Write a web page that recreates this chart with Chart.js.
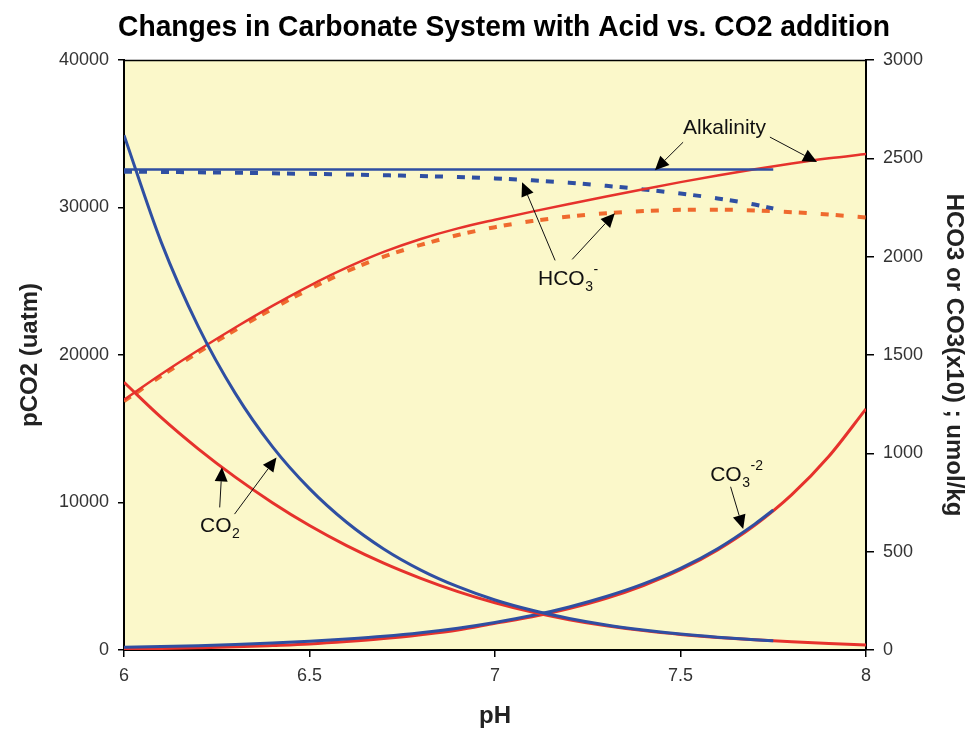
<!DOCTYPE html>
<html>
<head>
<meta charset="utf-8">
<script src="https://cdn.jsdelivr.net/npm/chart.js@4.4.1/dist/chart.umd.min.js"></script>
<style>
html,body{margin:0;padding:0;background:#fff;}
#wrap{width:970px;height:732px;}
</style>
</head>
<body>
<div id="wrap"><canvas id="c" width="970" height="732"></canvas></div>
<script>
// ---- data ----
const chartTitle = 'Changes in Carbonate System with Acid vs. CO2 addition';
const phAcid = [6.0,6.1,6.2,6.3,6.4,6.5,6.6,6.7,6.8,6.9,7.0,7.1,7.2,7.3,7.4,7.5,7.6,7.7,7.8,7.9,8.0];
const phCO2  = [6.0,6.1,6.2,6.3,6.4,6.5,6.6,6.7,6.8,6.9,7.0,7.1,7.2,7.3,7.4,7.5,7.6,7.7,7.75];

// CO2 addition (blue)
const pco2CO2 = [34900,27670,21940,17400,13790,10940,8660,6850,5420,4290,3390,2690,2140,1700,1360,1085,870,698,626];
const alkCO2  = [2443,2443,2443,2443,2443,2443,2443,2443,2443,2443,2443,2443,2443,2443,2443,2443,2443,2443,2443];
const hco3CO2 = [2432,2431,2429,2427,2424,2421,2418,2414,2410,2405,2398,2388,2376,2360,2342,2321,2296,2265,2245];
const co3CO2  = [14,18,22,28,35,44,56,70,88,111,140,175,219,272,336,415,515,640,712];

// Acid addition (red)
const pco2Acid = [18150,15770,13640,11720,9990,8440,7080,5890,4860,3960,3200,2570,2054,1641,1313,1056,854,696,561,443,339];
const alkAcid  = [1272,1402,1524,1640,1750,1852,1944,2024,2090,2144,2188,2229,2268,2306,2343,2379,2413,2445,2474,2500,2522];
const hco3Acid = [1265,1393,1513,1627,1735,1835,1925,2000,2060,2110,2150,2181,2204,2221,2232,2238,2239,2235,2226,2214,2199];
const co3Acid  = [5.5,8,11.5,16,23,31,43,58,78,102,136,169,211,263,328,408,509,634,790,985,1226];

// tick labels
const xTicks = [6,6.5,7,7.5,8];
const leftTicks = [0,10000,20000,30000,40000];
const rightTicks = [0,500,1000,1500,2000,2500,3000];

// annotations (pH, right-axis value)
const notes = [
  {main:'Alkalinity', sub:'', sup:'', x:7.507, y:2654},
  {main:'HCO', sub:'3', sup:'-', x:7.116, y:1885},
  {main:'CO', sub:'2', sup:'', x:6.205, y:632},
  {main:'CO', sub:'3', sup:'-2', x:7.580, y:891}
];
const arrows = [
  [7.507,2582,7.431,2440],
  [7.741,2608,7.868,2481],
  [7.162,1981,7.073,2379],
  [7.208,1986,7.323,2221],
  [6.258,725,6.264,929],
  [6.298,691,6.411,979],
  [7.635,830,7.669,615]
];

const BLUE = '#2F4FA2', RED = '#E6322C', ORANGE = '#EF6A2E';
const pts = (xs, ys) => xs.map((x,i)=>({x:x, y:ys[i]}));

const FONT = '"Liberation Sans", Arial, Helvetica, sans-serif';

const deco = {
  id:'deco',
  beforeDraw(chart){
    const {ctx, chartArea:a} = chart;
    ctx.save();
    ctx.fillStyle = '#FBF8CA';
    ctx.fillRect(a.left, a.top, a.right-a.left, a.bottom-a.top);
    ctx.restore();
  },
  afterDraw(chart){
    const {ctx, chartArea:a} = chart;
    const sx = chart.scales.x, sy = chart.scales.y2;
    ctx.save();
    // top border
    ctx.strokeStyle = '#000'; ctx.lineWidth = 1.5;
    ctx.beginPath(); ctx.moveTo(a.left, a.top+0.5); ctx.lineTo(a.right, a.top+0.5); ctx.stroke();
    // title (condensed bold)
    ctx.font = 'bold 30px ' + FONT;
    ctx.fillStyle = '#000';
    ctx.textBaseline = 'alphabetic';
    const w = ctx.measureText(chartTitle).width;
    const targetW = 772;
    const k = targetW / w;
    ctx.save();
    ctx.translate(504 - targetW/2, 36);
    ctx.scale(k, 1);
    ctx.fillText(chartTitle, 0, 0);
    ctx.restore();
    // arrows
    ctx.strokeStyle = '#111'; ctx.fillStyle = '#000'; ctx.lineWidth = 1;
    arrows.forEach(ar=>{
      const x1 = sx.getPixelForValue(ar[0]), y1 = sy.getPixelForValue(ar[1]);
      const x2 = sx.getPixelForValue(ar[2]), y2 = sy.getPixelForValue(ar[3]);
      const ang = Math.atan2(y2-y1, x2-x1);
      const L = 14, W = 6.5;
      const bx = x2 - L*Math.cos(ang), by = y2 - L*Math.sin(ang);
      ctx.beginPath(); ctx.moveTo(x1,y1); ctx.lineTo(bx,by); ctx.stroke();
      ctx.beginPath();
      ctx.moveTo(x2,y2);
      ctx.lineTo(bx + W*Math.sin(ang), by - W*Math.cos(ang));
      ctx.lineTo(bx - W*Math.sin(ang), by + W*Math.cos(ang));
      ctx.closePath(); ctx.fill();
    });
    // annotation texts
    notes.forEach(n=>{
      let x = sx.getPixelForValue(n.x), y = sy.getPixelForValue(n.y);
      ctx.textBaseline = 'middle'; ctx.textAlign = 'left';
      ctx.font = '21px ' + FONT; ctx.fillStyle = '#111';
      ctx.fillText(n.main, x, y);
      x += ctx.measureText(n.main).width;
      ctx.font = '14px ' + FONT;
      let sw = 0;
      if (n.sub){ ctx.fillText(n.sub, x+0.5, y+8); sw = ctx.measureText(n.sub).width; }
      if (n.sup){ ctx.fillText(n.sup, x+sw+1, y-9); }
    });
    ctx.restore();
  }
};

const tickFont = {family: FONT, size: 18};
const titleFont = {family: FONT, size: 24, weight: 'bold'};

new Chart(document.getElementById('c'), {
  type:'line',
  data:{
    datasets:[
      {label:'pCO2 CO2 add', data:pts(phCO2,pco2CO2), yAxisID:'y', borderColor:BLUE, borderWidth:3},
      {label:'pCO2 acid add', data:pts(phAcid,pco2Acid), yAxisID:'y', borderColor:RED, borderWidth:3},
      {label:'Alk CO2 add', data:pts(phCO2,alkCO2), yAxisID:'y2', borderColor:BLUE, borderWidth:2.5},
      {label:'Alk acid add', data:pts(phAcid,alkAcid), yAxisID:'y2', borderColor:RED, borderWidth:2.5},
      {label:'HCO3 CO2 add', data:pts(phCO2,hco3CO2), yAxisID:'y2', borderColor:BLUE, borderWidth:4, borderDash:[8,7,8,14]},
      {label:'HCO3 acid add', data:pts(phAcid,hco3Acid), yAxisID:'y2', borderColor:ORANGE, borderWidth:4, borderDash:[8,7,8,14]},
      {label:'CO3 CO2 add', data:pts(phCO2,co3CO2), yAxisID:'y2', borderColor:BLUE, borderWidth:3},
      {label:'CO3 acid add', data:pts(phAcid,co3Acid), yAxisID:'y2', borderColor:RED, borderWidth:3}
    ]
  },
  options:{
    responsive:false,
    animation:false,
    devicePixelRatio:1,
    layout:{padding:{top:60,left:0,right:0,bottom:0}},
    elements:{point:{radius:0}, line:{cubicInterpolationMode:'monotone', fill:false}},
    plugins:{legend:{display:false}, title:{display:false}, tooltip:{enabled:false}},
    scales:{
      x:{
        type:'linear', min:6, max:8, position:'bottom',
        afterBuildTicks:s=>{ s.ticks = xTicks.map(v=>({value:v})); },
        afterFit:s=>{ s.height = 82; },
        ticks:{font:tickFont, color:'#333', padding:8, maxRotation:0, autoSkip:false, callback:v=>String(v)},
        grid:{drawOnChartArea:false, drawTicks:true, tickLength:7, color:'#000', lineWidth:1.5},
        border:{display:true, color:'#000', width:2},
        title:{display:true, text:'pH', font:titleFont, color:'#222', padding:{top:0,bottom:1}}
      },
      y:{
        type:'linear', min:0, max:40000, position:'left',
        afterBuildTicks:s=>{ s.ticks = leftTicks.map(v=>({value:v})); },
        afterFit:s=>{ s.width = 124; },
        ticks:{font:tickFont, color:'#333', padding:9, callback:v=>String(v)},
        grid:{drawOnChartArea:false, drawTicks:true, tickLength:6, color:'#000', lineWidth:1.5},
        border:{display:true, color:'#000', width:2},
        title:{display:true, text:'pCO2 (uatm)', font:titleFont, color:'#222', padding:{top:16,bottom:0}}
      },
      y2:{
        type:'linear', min:0, max:3000, position:'right',
        afterBuildTicks:s=>{ s.ticks = rightTicks.map(v=>({value:v})); },
        afterFit:s=>{ s.width = 104; },
        ticks:{font:tickFont, color:'#333', padding:9, callback:v=>String(v)},
        grid:{drawOnChartArea:false, drawTicks:true, tickLength:8, color:'#000', lineWidth:1.5},
        border:{display:true, color:'#000', width:2},
        title:{display:true, text:'HCO3 or CO3(x10) ; umol/kg', font:titleFont, color:'#222', padding:{top:2,bottom:0}}
      }
    }
  },
  plugins:[deco]
});
</script>
</body>
</html>
